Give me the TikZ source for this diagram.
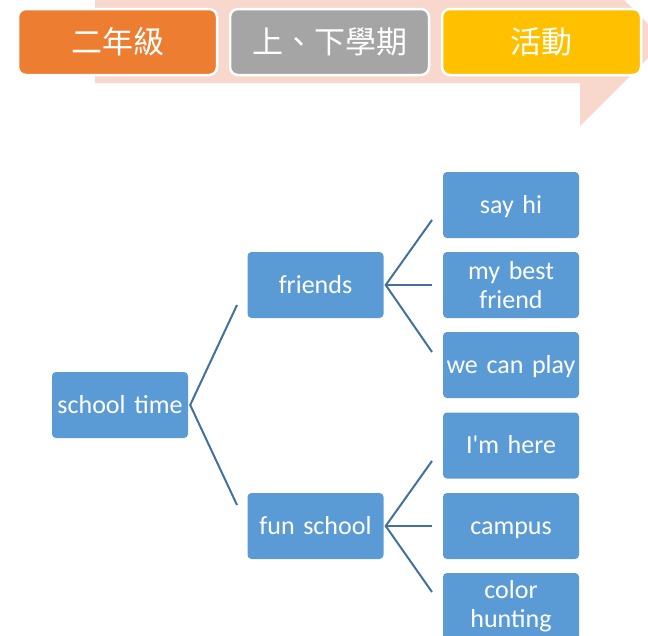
\documentclass[tikz,border=0pt]{standalone}
\usepackage{fontspec}
\setmainfont{Carlito}[Ligatures=TeXOff]
\newfontfamily\cjk{Noto Sans CJK TC}
\definecolor{pinkc}{HTML}{F8D7CC}
\definecolor{orangec}{HTML}{ED7D31}
\definecolor{grayc}{HTML}{A5A5A5}
\definecolor{yellowc}{HTML}{FFC000}
\definecolor{boxblue}{HTML}{5B9BD5}
\definecolor{lineblue}{HTML}{41719C}
\tikzset{
  hbox/.style={draw=white, line width=2.5pt, rounded corners=8pt, minimum width=199pt, minimum height=66pt, inner sep=0pt, text=white, font=\cjk\fontsize{31}{34}\selectfont},
  tbox/.style={fill=boxblue, rounded corners=4pt, minimum width=136pt, minimum height=66pt, inner sep=0pt, text=white, text width=136pt, align=center, font=\fontsize{26}{29}\selectfont},
  onebox/.style={tbox, text height=18pt, text depth=2pt},
  conn/.style={draw=lineblue, line width=2pt}
}
\begin{document}
\begin{tikzpicture}[x=1pt,y=-1pt]
\useasboundingbox (0,0) rectangle (648,635);
\begin{scope}
\clip (0,0) rectangle (648,635);
\fill[pinkc] (95,-10) -- (614,-10) -- (665,41) -- (580,126) -- (580,83) -- (95,83) -- cycle;
\node[hbox, fill=orangec] (h1) at (117.5,42) {二年級};
\node[hbox, fill=grayc] (h2) at (329.5,42) {上、下學期};
\node[hbox, fill=yellowc] (h3) at (541.5,42) {活動};

\node[onebox] (st) at (120,405) {school time};
\node[onebox] (fr) at (315.5,285) {friends};
\node[onebox] (fs) at (315.5,526) {fun school};
\node[onebox] (a1) at (511,205) {say hi};
\node[tbox] (a2) at (511,285) {my best\\friend};
\node[onebox] (a3) at (511,365) {we can play};
\node[onebox] (b1) at (511,445.5) {I'm here};
\node[onebox] (b2) at (511,526) {campus};
\node[tbox] (b3) at (511,606) {color\\hunting};

\coordinate (c1) at (237,305);
\coordinate (c2) at (237,505);
\coordinate (d1) at (432,220);
\coordinate (d2) at (432,285);
\coordinate (d3) at (432,352);
\coordinate (e1) at (432,461);
\coordinate (e2) at (432,526);
\coordinate (e3) at (432,592);
\draw[conn] (c1) -- ([xshift=2pt]st.east) -- (c2);
\draw[conn] (d1) -- ([xshift=2pt]fr.east) -- (d3);
\draw[conn] ([xshift=2pt]fr.east) -- (d2);
\draw[conn] (e1) -- ([xshift=2pt]fs.east) -- (e3);
\draw[conn] ([xshift=2pt]fs.east) -- (e2);
\end{scope}
\end{tikzpicture}
\end{document}
